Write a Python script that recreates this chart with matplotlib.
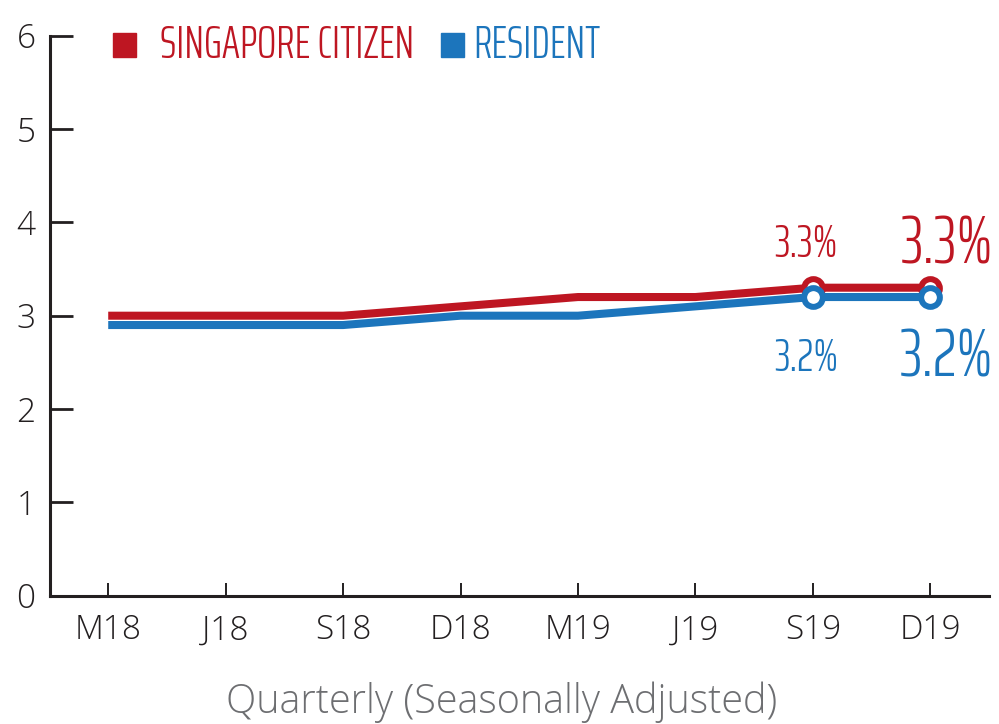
import matplotlib
matplotlib.use('Agg')
import matplotlib.pyplot as plt
from matplotlib.patches import Rectangle

# Quarterly unemployment rate (seasonally adjusted), %
quarters = ['M18', 'J18', 'S18', 'D18', 'M19', 'J19', 'S19', 'D19']
citizen = [3.0, 3.0, 3.0, 3.1, 3.2, 3.2, 3.3, 3.3]
resident = [2.9, 2.9, 2.9, 3.0, 3.0, 3.1, 3.2, 3.2]
series_names = ['SINGAPORE CITIZEN', 'RESIDENT']
y_ticks = [0, 1, 2, 3, 4, 5, 6]
x_title = 'Quarterly (Seasonally Adjusted)'

red = '#BE1622'
blue = '#1C75BC'
axis_col = '#231F20'
cond = 'Saira ExtraCondensed'
body = 'Open Sans'

W, H = 999, 724
fig = plt.figure(figsize=(W / 100, H / 100), dpi=100)
ax = fig.add_axes([49.5 / W, 1 - 595.7 / H, 939.5 / W, 560 / H])

x = list(range(len(quarters)))
ax.plot(x, citizen, color=red, lw=5.8, solid_capstyle='butt', zorder=3)
ax.plot(x, resident, color=blue, lw=5.8, solid_capstyle='butt', zorder=4)

# hollow markers on the last two quarters
ax.plot(x[-2:], citizen[-2:], 'o', ms=13.5, mew=4.3, mfc='white', mec=red, zorder=5)
ax.plot(x[-2:], resident[-2:], 'o', ms=13.5, mew=4.3, mfc='white', mec=blue, zorder=6)

# value labels
for i, size, dx in ((-2, 33, -5), (-1, 48, 12)):
    ax.annotate(f'{citizen[i]:.1f}%', (x[i], citizen[i]), xytext=(dx, 31),
                textcoords='offset points', ha='center', va='center',
                color=red, fontsize=size, family=cond, weight=300)
    ax.annotate(f'{resident[i]:.1f}%', (x[i], resident[i]), xytext=(dx, -44),
                textcoords='offset points', ha='center', va='center',
                color=blue, fontsize=size, family=cond, weight=300)

ax.set_xlim(-0.5, 7.5)
ax.set_ylim(0, 6)
ax.set_xticks(x)
ax.set_xticklabels(quarters)
ax.set_yticks(y_ticks)

for s in ('top', 'right'):
    ax.spines[s].set_visible(False)
for s in ('left', 'bottom'):
    ax.spines[s].set_color(axis_col)
    ax.spines[s].set_linewidth(2.2)

ax.tick_params(axis='y', direction='in', length=16.5, width=2.0, color=axis_col,
               pad=10, labelsize=24, labelcolor=axis_col)
ax.tick_params(axis='x', direction='in', length=9.5, width=1.4, color=axis_col,
               pad=13, labelsize=24, labelcolor=axis_col)
for lab in ax.get_xticklabels() + ax.get_yticklabels():
    lab.set_family(body)
    lab.set_weight(300)

ax.set_xlabel(x_title, fontsize=28.5, color='#6D6E71', family=body, weight=300,
              labelpad=25)
ax.xaxis.label.set_x(0.481)  # centred on the figure rather than the axes

# legend
for (sq_x, txt_x), name, c in zip(((113, 160), (441, 473)), series_names, (red, blue)):
    fig.patches.append(Rectangle((sq_x / W, 1 - 57 / H), 23 / W, 24 / H,
                                 transform=fig.transFigure, color=c))
    fig.text(txt_x / W, 1 - 45 / H, name, color=c, fontsize=32.5, family=cond,
             weight=300, va='center', ha='left')

fig.savefig('out.png', dpi=100)
